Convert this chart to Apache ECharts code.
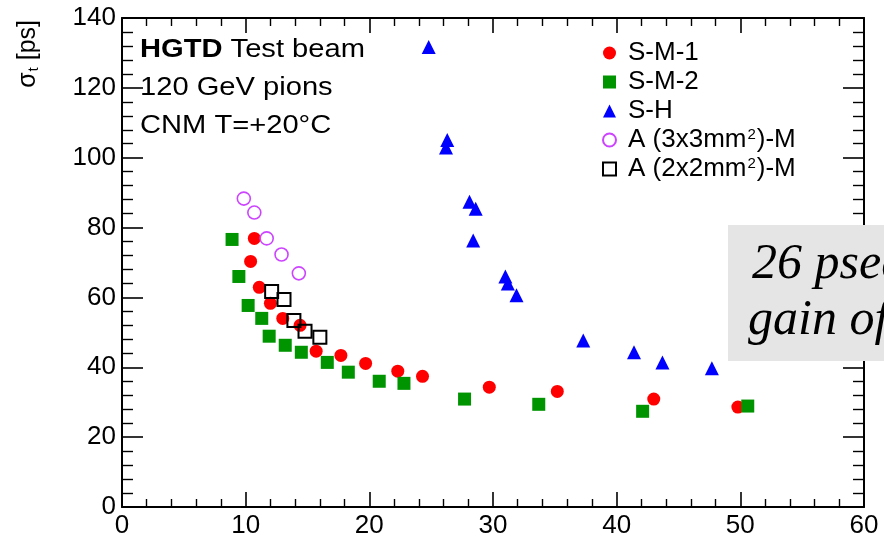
<!DOCTYPE html>
<html>
<head>
<meta charset="utf-8">
<script src="https://cdn.jsdelivr.net/npm/echarts@6/dist/echarts.min.js"></script>
<style>
  html, body { margin: 0; padding: 0; background: #fff; }
  #chart { width: 884px; height: 539px; }
</style>
</head>
<body>
<div id="chart"></div>
<script>
// values: [x, sigma_t in ps]
const sm1 = [
  [10.7, 76.9], [10.4, 70.3], [11.1, 62.9], [12.0, 58.3], [13.0, 54.0],
  [14.4, 52.0], [15.7, 44.6], [17.7, 43.4], [19.7, 41.1], [22.3, 38.9],
  [24.3, 37.4], [29.7, 34.3], [35.2, 33.1], [43.0, 30.9], [49.8, 28.6]
];
const sm2 = [
  [8.9, 76.6], [9.45, 66.0], [10.2, 57.7], [11.3, 54.0], [11.9, 48.9],
  [13.2, 46.3], [14.5, 44.3], [16.6, 41.4], [18.3, 38.6], [20.8, 36.0],
  [22.8, 35.4], [27.7, 30.9], [33.7, 29.4], [42.1, 27.4], [50.6, 28.9]
];
const sh = [
  [24.8, 131.7], [26.3, 105.1], [26.2, 102.9], [28.1, 87.4], [28.6, 85.4],
  [28.4, 76.3], [31.0, 66.0], [31.2, 64.0], [31.9, 60.6], [37.3, 47.7],
  [41.4, 44.3], [43.7, 41.4], [47.7, 39.7]
];
const a3x3 = [[9.85, 88.3], [10.7, 84.3], [11.7, 76.9], [12.9, 72.3], [14.3, 66.9]];
const a2x2 = [[12.1, 61.7], [13.1, 59.4], [13.9, 53.4], [14.8, 50.3], [16.0, 48.6]];

const seriesNames = ['S-M-1', 'S-M-2', 'S-H', 'A (3x3mm2)-M', 'A (2x2mm2)-M'];
const infoLines = ['{b|HGTD} Test beam', '120 GeV pions', 'CNM T=+20\u00b0C'];
const boxLines = ['26 psec', 'gain of'];

const FONT = '"Liberation Sans", Arial, sans-serif';

const chart = echarts.init(document.getElementById('chart'));

function frameAxis(pos, min, max, interval, showLabels, majorLen, minorLen) {
  return {
    type: 'value', position: pos, min: min, max: max, interval: interval,
    axisLine: { show: true, onZero: false, lineStyle: { color: '#000', width: 2 } },
    axisTick: { show: true, inside: true, length: majorLen, lineStyle: { color: '#000', width: 1.6 } },
    minorTick: { show: true, splitNumber: 5, length: minorLen, lineStyle: { color: '#000', width: 1.4 } },
    splitLine: { show: false },
    axisLabel: {
      show: showLabels, color: '#000', fontSize: 26, fontFamily: FONT,
      margin: 6, showMaxLabel: true, showMinLabel: true
    }
  };
}

const option = {
  animation: false,
  backgroundColor: '#fff',
  grid: { left: 122, right: 20, top: 18, bottom: 31 },
  xAxis: [
    frameAxis('bottom', 0, 60, 10, true, 15, 8),
    frameAxis('top', 0, 60, 10, false, 15, 8)
  ],
  yAxis: [
    frameAxis('left', 0, 140, 20, true, 21, 11),
    frameAxis('right', 0, 140, 20, false, 21, 11)
  ],
  legend: {
    orient: 'vertical', left: 597, top: 35,
    itemWidth: 13, itemHeight: 13, itemGap: 3,
    formatter: name => name.replace('mm2', 'mm{sup|2}'),
    textStyle: {
      fontSize: 26, fontFamily: FONT, color: '#000', padding: [0, 0, 0, 7], lineHeight: 26,
      rich: { sup: { fontSize: 15, fontFamily: FONT, color: '#000', lineHeight: 8,
        verticalAlign: 'top', padding: [0, 1, 0, 1] } }
    },
    data: seriesNames
  },
  series: [
    { name: seriesNames[0], type: 'scatter', data: sm1, symbol: 'circle', symbolSize: 13,
      itemStyle: { color: '#ff0000', opacity: 1 } },
    { name: seriesNames[1], type: 'scatter', data: sm2, symbol: 'rect', symbolSize: 13,
      itemStyle: { color: '#009400', opacity: 1 } },
    { name: seriesNames[2], type: 'scatter', data: sh, symbol: 'triangle', symbolSize: 14,
      itemStyle: { color: '#0000ff', opacity: 1 } },
    { name: seriesNames[3], type: 'scatter', data: a3x3, symbol: 'circle', symbolSize: 13,
      itemStyle: { color: '#fff', borderColor: '#cc44ff', borderWidth: 1.6, opacity: 1 } },
    { name: seriesNames[4], type: 'scatter', data: a2x2, symbol: 'rect', symbolSize: 13,
      itemStyle: { color: 'rgba(255,255,255,0)', borderColor: '#000', borderWidth: 2, opacity: 1 } }
  ],
  graphic: [
    { type: 'text', x: 28, y: 20, rotation: Math.PI / 2, z: 10,
      style: { text: '\u03c3{s|t} [ps]', align: 'right', verticalAlign: 'middle',
        font: '25px ' + FONT, fill: '#000',
        rich: { s: { fontSize: 15, fontFamily: FONT, padding: [12, 0, 0, 1] } } } },
    { type: 'text', x: 140, y: 50, z: 10, scaleX: 1.12,
      style: { text: infoLines[0], verticalAlign: 'middle', font: '26px ' + FONT, fill: '#000',
        rich: { b: { fontWeight: 'bold', fontSize: 26, fontFamily: FONT } } } },
    { type: 'text', x: 140, y: 88, z: 10, scaleX: 1.12,
      style: { text: infoLines[1], verticalAlign: 'middle', font: '26px ' + FONT, fill: '#000' } },
    { type: 'text', x: 140, y: 126, z: 10, scaleX: 1.12,
      style: { text: infoLines[2], verticalAlign: 'middle', font: '26px ' + FONT, fill: '#000' } },
    { type: 'rect', z: 100, shape: { x: 728, y: 225, width: 170, height: 136 },
      style: { fill: '#e5e5e5' } },
    { type: 'text', x: 752, y: 265, z: 101,
      style: { text: boxLines[0], verticalAlign: 'middle', font: 'italic 50px "Liberation Serif", serif', fill: '#000' } },
    { type: 'text', x: 748, y: 321, z: 101,
      style: { text: boxLines[1], verticalAlign: 'middle', font: 'italic 50px "Liberation Serif", serif', fill: '#000' } }
  ]
};

chart.setOption(option);
window.onresize = () => chart.resize();
</script>
</body>
</html>
